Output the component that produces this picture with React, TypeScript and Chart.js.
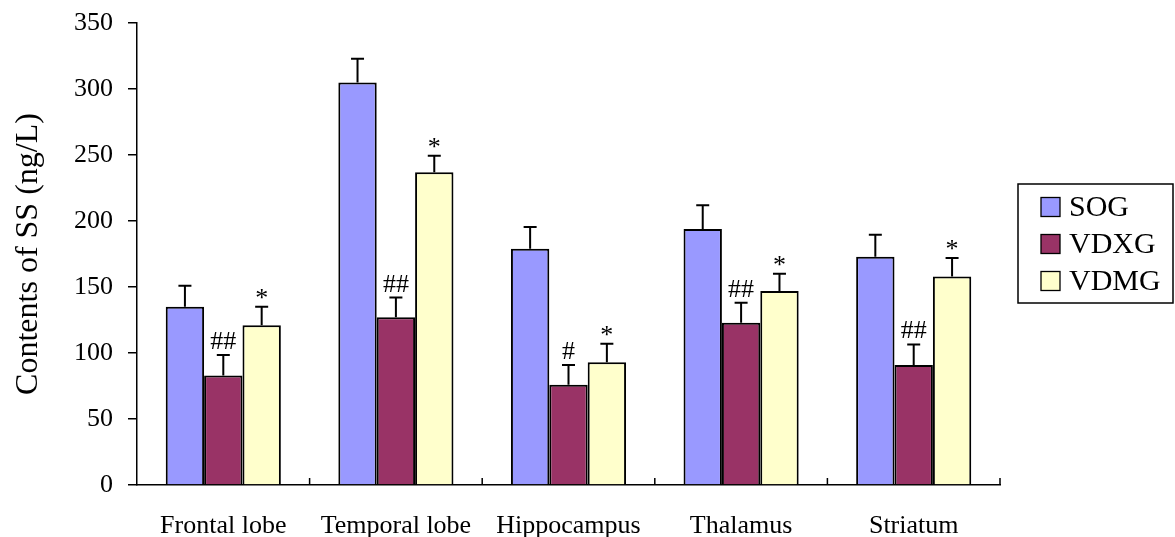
import React, { useEffect, useRef } from "react";
import { Chart, registerables } from "chart.js";

Chart.register(...registerables);

const categories = ["Frontal lobe", "Temporal lobe", "Hippocampus", "Thalamus", "Striatum"];
const seriesNames = ["SOG", "VDXG", "VDMG"];
const seriesColors = ["#9999FF", "#993366", "#FFFFCC"];
const sogValues = [135, 305, 179, 194, 173];
const vdxgValues = [83, 127, 76, 123, 91];
const vdmgValues = [121, 237, 93, 147, 158];
const sogErrors = [16, 18, 16.5, 18, 16.5];
const vdxgErrors = [15.5, 15, 15, 15, 15.5];
const vdmgErrors = [14, 12.5, 14, 13, 14];
const sogMarks = ["", "", "", "", ""];
const vdxgMarks = ["##", "##", "#", "##", "##"];
const vdmgMarks = ["*", "*", "*", "*", "*"];
const yMin = 0;
const yMax = 350;
const yStep = 50;
const yTitle = "Contents of SS (ng/L)";

const FONT = "'Liberation Serif', 'Times New Roman', serif";

const errorsBySeries = [sogErrors, vdxgErrors, vdmgErrors];
const marksBySeries = [sogMarks, vdxgMarks, vdmgMarks];

const errorBarPlugin = {
  id: "errorBars",
  afterDatasetsDraw(chart: any) {
    const ctx = chart.ctx;
    const yScale = chart.scales.y;
    ctx.save();
    chart.data.datasets.forEach((ds: any, di: number) => {
      const meta = chart.getDatasetMeta(di);
      meta.data.forEach((bar: any, i: number) => {
        const v = ds.data[i];
        const err = errorsBySeries[di][i];
        const yTop = yScale.getPixelForValue(v + err);
        const yBar = yScale.getPixelForValue(v);
        const x = bar.x;
        ctx.strokeStyle = "#000";
        ctx.lineWidth = 2;
        ctx.beginPath();
        ctx.moveTo(x, yBar);
        ctx.lineTo(x, yTop);
        ctx.moveTo(x - 6.5, yTop);
        ctx.lineTo(x + 6.5, yTop);
        ctx.stroke();
        const mark = marksBySeries[di][i];
        if (mark) {
          ctx.fillStyle = "#000";
          ctx.font = `26px ${FONT}`;
          ctx.textAlign = "center";
          ctx.textBaseline = "alphabetic";
          ctx.fillText(mark, x, yTop - (mark === "*" ? 1 : 6));
        }
      });
    });
    ctx.restore();
  },
  afterDraw(chart: any) {
    const ctx = chart.ctx;
    const area = chart.chartArea;
    const n = categories.length;
    const xScale = chart.scales.x;
    const half = (area.right - area.left) / n / 2;
    ctx.save();
    ctx.strokeStyle = "#000";
    ctx.lineWidth = 1.5;
    ctx.beginPath();
    for (let i = 0; i < n; i++) {
      const bx = xScale.getPixelForValue(i) + half;
      ctx.moveTo(bx, area.bottom);
      ctx.lineTo(bx, area.bottom - 7);
    }
    ctx.stroke();

    // legend
    const lx = area.right + 18;
    const ly = 184;
    const lw = 155;
    const lh = 119;
    ctx.lineWidth = 1.5;
    ctx.strokeRect(lx, ly, lw, lh);
    ctx.font = `30px ${FONT}`;
    ctx.textAlign = "left";
    ctx.textBaseline = "middle";
    seriesNames.forEach((name, i) => {
      const cy = ly + 23 + i * 37;
      ctx.fillStyle = seriesColors[i];
      ctx.fillRect(lx + 23, cy - 9.5, 19, 19);
      ctx.lineWidth = 1.3;
      ctx.strokeRect(lx + 23, cy - 9.5, 19, 19);
      ctx.fillStyle = "#000";
      ctx.fillText(name, lx + 51, cy + 1);
    });
    ctx.restore();
  },
};

export default function App() {
  const ref = useRef<HTMLCanvasElement>(null);
  useEffect(() => {
    if (!ref.current) return;
    const values = [sogValues, vdxgValues, vdmgValues];
    const chart = new Chart(ref.current, {
      type: "bar",
      data: {
        labels: categories,
        datasets: seriesNames.map((name, i) => ({
          label: name,
          data: values[i],
          backgroundColor: seriesColors[i],
          borderColor: "#000",
          borderWidth: 2,
          borderSkipped: "bottom",
          categoryPercentage: 0.667,
          barPercentage: 1,
        })),
      },
      options: {
        animation: false,
        responsive: false,
        maintainAspectRatio: false,
        layout: { padding: { left: 0, right: 175, top: 23, bottom: 0 } },
        plugins: { legend: { display: false }, tooltip: { enabled: false } },
        scales: {
          x: {
            grid: { display: true, drawOnChartArea: false, drawTicks: false },
            border: { display: true, color: "#000", width: 1.5 },
            ticks: {
              color: "#000",
              font: { family: FONT, size: 26 },
              padding: 26,
              maxRotation: 0,
            },
            afterFit: (s: any) => {
              s.height = 52;
              s.paddingLeft = 0;
              s.paddingRight = 0;
            },
          },
          y: {
            min: yMin,
            max: yMax,
            grid: { display: true, drawOnChartArea: false, drawTicks: true, tickLength: 9, color: "#000", lineWidth: 1.5 },
            border: { display: true, color: "#000", width: 1.5 },
            ticks: {
              stepSize: yStep,
              color: "#000",
              font: { family: FONT, size: 26 },
              padding: 15,
            },
            title: {
              display: true,
              text: yTitle,
              color: "#000",
              font: { family: FONT, size: 32 },
              padding: { top: 9, bottom: 0 },
            },
            afterFit: (s: any) => {
              s.width = 137;
              s.paddingTop = 0;
              s.paddingBottom = 0;
            },
          },
        },
      },
      plugins: [errorBarPlugin],
    });
    return () => chart.destroy();
  }, []);
  return (
    <div style={{ position: "absolute", left: 0, top: 0, width: 1175, height: 537, background: "#fff" }}>
      <canvas ref={ref} width={1175} height={537} style={{ width: 1175, height: 537 }} />
    </div>
  );
}
